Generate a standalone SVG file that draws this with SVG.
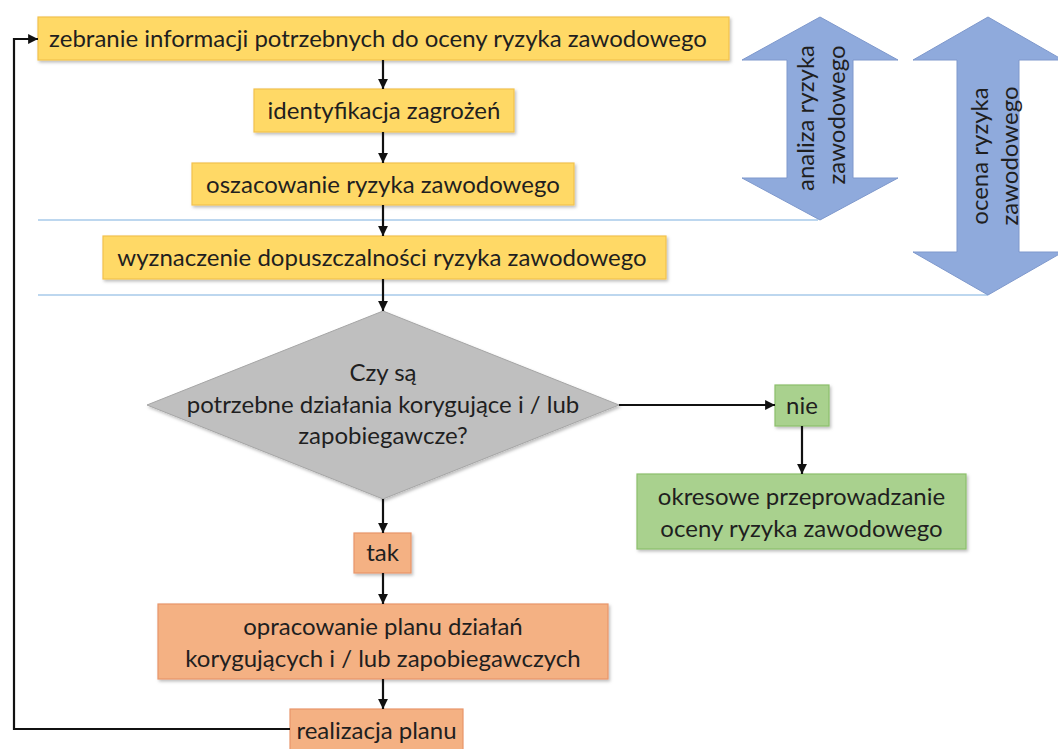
<svg xmlns="http://www.w3.org/2000/svg" width="1058" height="749" viewBox="0 0 1058 749">
<defs>
<marker id="ah" viewBox="0 0 10 10" refX="10" refY="5" markerWidth="4.5" markerHeight="4.5" orient="auto" markerUnits="strokeWidth">
<path d="M0,0 L10,5 L0,10 z" fill="#111"/>
</marker>
<filter id="sh" x="-10%" y="-20%" width="120%" height="150%">
<feDropShadow dx="1.5" dy="2" stdDeviation="1.5" flood-color="#000" flood-opacity="0.25"/>
</filter>
</defs>
<style>
text{font-family:Lato,"Open Sans","Liberation Sans",sans-serif;fill:#1f1f1f;text-anchor:middle}
.t{font-size:24px}
.y{fill:#FFD966;stroke:#F2C14E;stroke-width:1.2}
.g{fill:#A9D18E;stroke:#8CBF6B;stroke-width:1.2}
.o{fill:#F4B183;stroke:#E8956A;stroke-width:1.2}
.c{fill:none;stroke:#111;stroke-width:2.2;marker-end:url(#ah)}
.sep{stroke:#5B9BD5;stroke-width:1.2;opacity:0.8}
.ba{fill:#8FAADC;stroke:#7E98CC;stroke-width:1}
</style>
<rect width="1058" height="749" fill="#fff"/>
<g id="separators">
<line class="sep" x1="38" y1="220" x2="818" y2="220"/>
<line class="sep" x1="38" y1="295" x2="988" y2="295"/>
</g>
<g id="arrow-analiza">
<path class="ba" d="M820,17 L898,60 L853,60 L853,178 L898,178 L820,220 L742,178 L787,178 L787,60 L742,60 Z"/>
<text class="t" transform="translate(806,118) rotate(-90)" dy="8">analiza ryzyka</text>
<text class="t" transform="translate(837,115) rotate(-90)" dy="8">zawodowego</text>
</g>
<g id="arrow-ocena">
<path class="ba" d="M988,17 L1063,60 L1019,60 L1019,252 L1063,252 L988,295 L913,252 L957,252 L957,60 L913,60 Z"/>
<text class="t" transform="translate(980,156) rotate(-90)" dy="8">ocena ryzyka</text>
<text class="t" transform="translate(1010,156) rotate(-90)" dy="8">zawodowego</text>
</g>
<g id="n1"><rect class="y" filter="url(#sh)" x="38" y="17" width="691" height="43"/>
<text class="t" x="378" y="47">zebranie informacji potrzebnych do oceny ryzyka zawodowego</text></g>
<g id="n2"><rect class="y" filter="url(#sh)" x="254" y="89" width="260" height="43"/>
<text class="t" x="384" y="119">identyfikacja zagrożeń</text></g>
<g id="n3"><rect class="y" filter="url(#sh)" x="192" y="163" width="382" height="42"/>
<text class="t" x="383" y="193">oszacowanie ryzyka zawodowego</text></g>
<g id="n4"><rect class="y" filter="url(#sh)" x="103" y="236" width="563" height="43"/>
<text class="t" x="382" y="266">wyznaczenie dopuszczalności ryzyka zawodowego</text></g>
<g id="decision"><path d="M383,311 L619,405 L383,499 L147,405 Z" fill="#BFBFBF" stroke="#A6A6A6" stroke-width="1" filter="url(#sh)"/>
<text class="t" x="383" y="381">Czy są</text>
<text class="t" x="383" y="413">potrzebne działania korygujące i / lub</text>
<text class="t" x="383" y="444">zapobiegawcze?</text></g>
<g id="nie"><rect class="g" filter="url(#sh)" x="775" y="385" width="54" height="41"/>
<text class="t" x="802" y="414">nie</text></g>
<g id="okresowe"><rect class="g" filter="url(#sh)" x="637" y="474" width="329" height="75"/>
<text class="t" x="801.5" y="505">okresowe przeprowadzanie</text>
<text class="t" x="801.5" y="537">oceny ryzyka zawodowego</text></g>
<g id="tak"><rect class="o" filter="url(#sh)" x="354" y="533" width="57" height="40"/>
<text class="t" x="382.5" y="561">tak</text></g>
<g id="plan"><rect class="o" filter="url(#sh)" x="158" y="604" width="450" height="75"/>
<text class="t" x="383" y="635">opracowanie planu działań</text>
<text class="t" x="383" y="667">korygujących i / lub zapobiegawczych</text></g>
<g id="realizacja"><rect class="o" x="290" y="709" width="173" height="44"/>
<text class="t" x="376.5" y="739">realizacja planu</text></g>
<g id="connectors">
<line class="c" x1="383" y1="60" x2="383" y2="89"/>
<line class="c" x1="383" y1="132" x2="383" y2="163"/>
<line class="c" x1="383" y1="205" x2="383" y2="236"/>
<line class="c" x1="383" y1="279" x2="383" y2="311"/>
<line class="c" x1="619" y1="405" x2="775" y2="405"/>
<line class="c" x1="802" y1="426" x2="802" y2="474"/>
<line class="c" x1="383" y1="499" x2="383" y2="533"/>
<line class="c" x1="383" y1="573" x2="383" y2="604"/>
<line class="c" x1="383" y1="679" x2="383" y2="709"/>
<polyline class="c" points="290,729 14,729 14,39 38,39"/>
</g>
</svg>
